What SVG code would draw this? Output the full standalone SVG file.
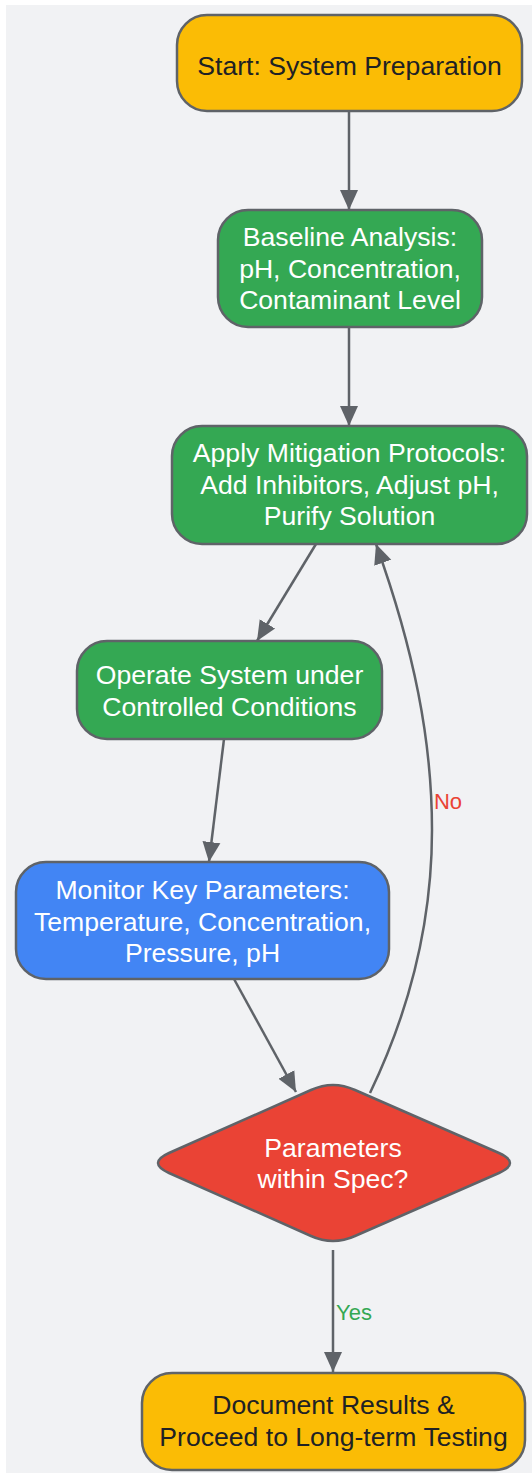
<svg xmlns="http://www.w3.org/2000/svg" width="532" height="1473" viewBox="0 0 532 1473">
<style>
.node{stroke:#5f6368;stroke-width:2.5}
.yellow{fill:#fbbc05}
.green{fill:#34a853}
.blue{fill:#4285f4}
.red{fill:#ea4335}
.t{font-family:"Liberation Sans",Arial,sans-serif;font-size:26.6px;text-anchor:middle}
.dark{fill:#202124}
.light{fill:#ffffff}
.edge{fill:none;stroke:#5f6368;stroke-width:2.5}
.lbl{font-family:"Liberation Sans",Arial,sans-serif;font-size:22px;text-anchor:middle}
</style>
<defs>
<marker id="arrow" markerUnits="userSpaceOnUse" markerWidth="22" markerHeight="22" viewBox="0 0 22 22" refX="20" refY="11" orient="auto">
<path d="M0,2 L20,11 L0,20 Z" fill="#5f6368"/>
</marker>
</defs>
<rect x="6" y="5" width="526" height="1468" fill="#f1f2f4"/>
<g id="connectors">
<path class="edge" d="M349,111 L349,210" marker-end="url(#arrow)"/>
<path class="edge" d="M349,327 L349,426" marker-end="url(#arrow)"/>
<path class="edge" d="M316,544 L257,641" marker-end="url(#arrow)"/>
<path class="edge" d="M224,739 L209,862" marker-end="url(#arrow)"/>
<path class="edge" d="M234,979 L296,1092" marker-end="url(#arrow)"/>
<path class="edge" d="M370,1093 C405,1020 432,930 432,830 C432,740 414,650 376,544" marker-end="url(#arrow)"/>
<path class="edge" d="M333,1250 L333,1372" marker-end="url(#arrow)"/>
<text class="lbl" x="448" y="809" fill="#ea4335">No</text>
<text class="lbl" x="354" y="1320" fill="#34a853">Yes</text>
</g>
<g id="start">
<rect class="node yellow" x="177" y="15" width="345" height="96" rx="30"/>
<text class="t dark" x="349.5" y="74.5">Start: System Preparation</text>
</g>
<g id="baseline">
<rect class="node green" x="218" y="210" width="264" height="117" rx="30"/>
<text class="t light" x="350" y="246">Baseline Analysis:</text>
<text class="t light" x="350" y="277.5">pH, Concentration,</text>
<text class="t light" x="350" y="309">Contaminant Level</text>
</g>
<g id="apply">
<rect class="node green" x="172" y="426" width="355" height="118" rx="30"/>
<text class="t light" x="349.5" y="462">Apply Mitigation Protocols:</text>
<text class="t light" x="349.5" y="493.5">Add Inhibitors, Adjust pH,</text>
<text class="t light" x="349.5" y="525">Purify Solution</text>
</g>
<g id="operate">
<rect class="node green" x="77" y="641" width="305" height="98" rx="30"/>
<text class="t light" x="229.5" y="684">Operate System under</text>
<text class="t light" x="229.5" y="716">Controlled Conditions</text>
</g>
<g id="monitor">
<rect class="node blue" x="16" y="862" width="373" height="117" rx="30"/>
<text class="t light" x="202.5" y="899">Monitor Key Parameters:</text>
<text class="t light" x="202.5" y="931">Temperature, Concentration,</text>
<text class="t light" x="202.5" y="962">Pressure, pH</text>
</g>
<g id="decision">
<path class="node red" d="M169,1153 L311,1090 Q333,1080 355,1090 L499,1153 Q521,1163 499,1173 L355,1236 Q333,1246 311,1236 L169,1173 Q147,1163 169,1153 Z"/>
<text class="t light" x="333" y="1157">Parameters</text>
<text class="t light" x="333" y="1188">within Spec?</text>
</g>
<g id="document">
<rect class="node yellow" x="142" y="1373" width="383" height="97" rx="30"/>
<text class="t dark" x="333.5" y="1414">Document Results &amp;</text>
<text class="t dark" x="333.5" y="1446">Proceed to Long-term Testing</text>
</g>
</svg>
